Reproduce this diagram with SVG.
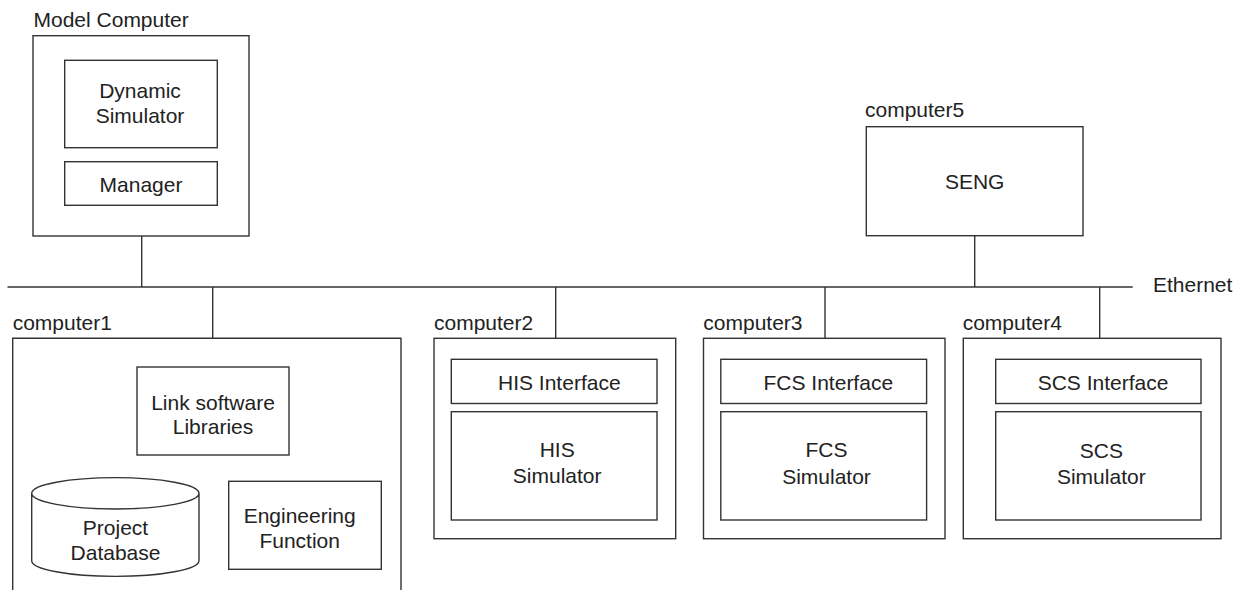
<svg xmlns="http://www.w3.org/2000/svg" width="1244" height="590" viewBox="0 0 1244 590">
<style>
.b{fill:#fff;stroke:#333;stroke-width:1.4}
.l{fill:none;stroke:#333;stroke-width:1.4}
text{font-family:"Liberation Sans",Arial,sans-serif;font-size:21px;fill:#222}
.m{text-anchor:middle}
</style>
<rect width="1244" height="590" fill="#fff"/>
<g id="connectors">
<line class="l" x1="7.5" y1="287" x2="1132.7" y2="287"/>
<line class="l" x1="141.7" y1="236" x2="141.7" y2="287"/>
<line class="l" x1="974.7" y1="235.7" x2="974.7" y2="287"/>
<line class="l" x1="212.7" y1="287" x2="212.7" y2="338.3"/>
<line class="l" x1="555.7" y1="287" x2="555.7" y2="338.3"/>
<line class="l" x1="825" y1="287" x2="825" y2="338.3"/>
<line class="l" x1="1099.7" y1="287" x2="1099.7" y2="338.3"/>
<text x="1153" y="292">Ethernet</text>
</g>
<g id="model-computer">
<text x="33.5" y="27">Model Computer</text>
<rect class="b" x="33" y="35.7" width="216" height="200.3"/>
<g id="dynamic-simulator">
<rect class="b" x="64.7" y="60.3" width="152.6" height="87.4"/>
<text class="m" x="140" y="98.3">Dynamic</text>
<text class="m" x="140" y="123.3">Simulator</text>
</g>
<g id="manager">
<rect class="b" x="64.7" y="161.7" width="152.6" height="43.6"/>
<text class="m" x="141" y="192.3">Manager</text>
</g>
</g>
<g id="computer5">
<text x="865" y="116.7">computer5</text>
<rect class="b" x="866.3" y="126.7" width="216.7" height="109"/>
<text class="m" x="974.7" y="189">SENG</text>
</g>
<g id="computer1">
<text x="12.7" y="330">computer1</text>
<path class="l" d="M12.7,592 V338.3 H401 V592"/>
<g id="link-software">
<rect class="b" x="137" y="367" width="152" height="88"/>
<text class="m" x="213" y="410">Link software</text>
<text class="m" x="213" y="434">Libraries</text>
</g>
<g id="project-database">
<path class="b" d="M31.7,493.3 V560.7 A83.65,15.7 0 0 0 199,560.7 V493.3 A83.65,15.7 0 0 0 31.7,493.3 A83.65,15.7 0 0 0 199,493.3"/>
<text class="m" x="115.5" y="535">Project</text>
<text class="m" x="115.5" y="560">Database</text>
</g>
<g id="engineering-function">
<rect class="b" x="228.7" y="481.3" width="152.6" height="88"/>
<text class="m" x="299.7" y="523.3">Engineering</text>
<text class="m" x="299.7" y="548.3">Function</text>
</g>
</g>
<g id="computer2">
<text x="434" y="330">computer2</text>
<rect class="b" x="434" y="338.3" width="241.7" height="200.4"/>
<g id="his-interface">
<rect class="b" x="451.3" y="359.3" width="205.7" height="44.2"/>
<text class="m" x="559.3" y="390">HIS Interface</text>
</g>
<g id="his-simulator">
<rect class="b" x="451.3" y="411.7" width="205.7" height="108.3"/>
<text class="m" x="557.2" y="456.7">HIS</text>
<text class="m" x="557.2" y="483.3">Simulator</text>
</g>
</g>
<g id="computer3">
<text x="703.3" y="330">computer3</text>
<rect class="b" x="703.5" y="338.3" width="241.5" height="200.4"/>
<g id="fcs-interface">
<rect class="b" x="720.8" y="359.3" width="205.8" height="44.2"/>
<text class="m" x="828.3" y="390">FCS Interface</text>
</g>
<g id="fcs-simulator">
<rect class="b" x="720.8" y="411.7" width="205.8" height="108.3"/>
<text class="m" x="826.5" y="457">FCS</text>
<text class="m" x="826.5" y="483.7">Simulator</text>
</g>
</g>
<g id="computer4">
<text x="962.7" y="330">computer4</text>
<rect class="b" x="963.3" y="338.3" width="257.7" height="200.4"/>
<g id="scs-interface">
<rect class="b" x="995.7" y="359.3" width="205.3" height="44.2"/>
<text class="m" x="1103" y="390">SCS Interface</text>
</g>
<g id="scs-simulator">
<rect class="b" x="995.7" y="411.7" width="205.3" height="108.3"/>
<text class="m" x="1101.3" y="457.5">SCS</text>
<text class="m" x="1101.3" y="484">Simulator</text>
</g>
</g>
</svg>
